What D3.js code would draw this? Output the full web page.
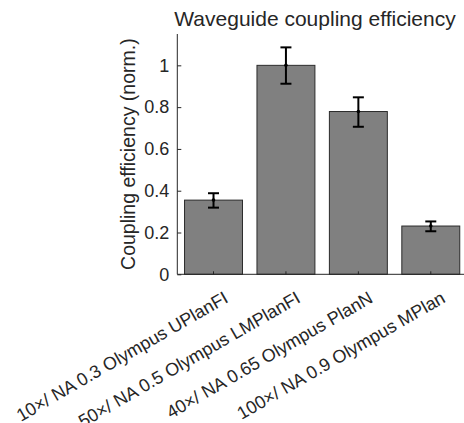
<!DOCTYPE html>
<meta charset="utf-8">
<style>
body {margin: 0; background: #fff;}
svg text {font-family: "Liberation Sans", Arial, sans-serif; fill: #262626;}
</style>
<html>
<body>
<script src="https://d3js.org/d3.v7.min.js"></script>
<script>
var width = 464,
    height = 423;

// data
var objectives = ["10\u00d7/ NA 0.3 Olympus UPlanFI",
                  "50\u00d7/ NA 0.5 Olympus LMPlanFI",
                  "40\u00d7/ NA 0.65 Olympus PlanN",
                  "100\u00d7/ NA 0.9 Olympus MPlan"];
var efficiency = [0.355, 1.0, 0.779, 0.231];
var errLow  = [0.319, 0.912, 0.706, 0.206];
var errHigh = [0.388, 1.086, 0.847, 0.253];
var yTicks = [0, 0.2, 0.4, 0.6, 0.8, 1];

var plotLeft = 177.3, plotRight = 467, plotTop = 34, plotBottom = 274.3;

var svg = d3.select("body").append("svg")
    .attr("width", width)
    .attr("height", height);

var x = d3.scaleBand()
    .domain(objectives)
    .range([plotLeft, plotRight])
    .paddingInner(0.2)
    .paddingOuter(0.1);

var y = d3.scaleLinear()
    .domain([0, 1.15])
    .range([plotBottom, plotTop]);

// bars
svg.selectAll("rect.bar")
    .data(objectives)
  .enter().append("rect")
    .attr("class", "bar")
    .attr("x", function(d) { return x(d); })
    .attr("width", x.bandwidth())
    .attr("y", function(d, i) { return y(efficiency[i]); })
    .attr("height", function(d, i) { return plotBottom - y(efficiency[i]); })
    .attr("fill", "#808080")
    .attr("stroke", "#2b2b2b")
    .attr("stroke-width", 1);

// error bars
var eb = svg.selectAll("g.err")
    .data(objectives)
  .enter().append("g")
    .attr("class", "err")
    .attr("transform", function(d) { return "translate(" + (x(d) + x.bandwidth() / 2) + ",0)"; });

eb.append("line")
    .attr("y1", function(d, i) { return y(errLow[i]); })
    .attr("y2", function(d, i) { return y(errHigh[i]); })
    .attr("stroke", "#000").attr("stroke-width", 2);
eb.append("line")
    .attr("x1", -5.5).attr("x2", 5.5)
    .attr("y1", function(d, i) { return y(errLow[i]); })
    .attr("y2", function(d, i) { return y(errLow[i]); })
    .attr("stroke", "#000").attr("stroke-width", 2);
eb.append("line")
    .attr("x1", -5.5).attr("x2", 5.5)
    .attr("y1", function(d, i) { return y(errHigh[i]); })
    .attr("y2", function(d, i) { return y(errHigh[i]); })
    .attr("stroke", "#000").attr("stroke-width", 2);
eb.append("circle")
    .attr("cy", function(d, i) { return y(efficiency[i]); })
    .attr("r", 1.8)
    .attr("fill", "#000");

// y axis
var yAxis = svg.append("g")
    .attr("transform", "translate(" + plotLeft + ",0)")
    .call(d3.axisLeft(y).tickValues(yTicks).tickSize(-4).tickPadding(8)
          .tickFormat(function(d) { return d === 0 || d === 1 ? d3.format("d")(d) : d3.format(".1f")(d); }));
yAxis.select(".domain").attr("d", "M0," + plotTop + "V" + plotBottom).attr("stroke", "#262626");
yAxis.selectAll(".tick line").attr("stroke", "#262626");
yAxis.selectAll(".tick text").attr("font-size", 18).attr("fill", "#262626").attr("x", -8);

// x axis
var xAxis = svg.append("g")
    .attr("transform", "translate(0," + plotBottom + ")")
    .call(d3.axisBottom(x).tickSize(-3).tickSizeOuter(0));
xAxis.select(".domain").attr("d", "M" + plotLeft + ",0H" + plotRight).attr("stroke", "#262626");
xAxis.selectAll(".tick line").attr("stroke", "#262626");
xAxis.selectAll(".tick text")
    .attr("font-size", 18)
    .attr("fill", "#262626")
    .attr("text-anchor", "end")
    .attr("x", 0)
    .attr("y", 0)
    .attr("dy", null)
    .attr("transform", "rotate(-30) translate(0,31.5)");

// y label
svg.append("text")
    .attr("transform", "translate(134.7," + (plotTop + plotBottom) / 2 + ") rotate(-90)")
    .attr("text-anchor", "middle")
    .attr("font-size", 19.5)
    .text("Coupling efficiency (norm.)");

// title
svg.append("text")
    .attr("x", 315)
    .attr("y", 26)
    .attr("text-anchor", "middle")
    .attr("font-size", 21)
    .text("Waveguide coupling efficiency");
</script>
</body>
</html>
